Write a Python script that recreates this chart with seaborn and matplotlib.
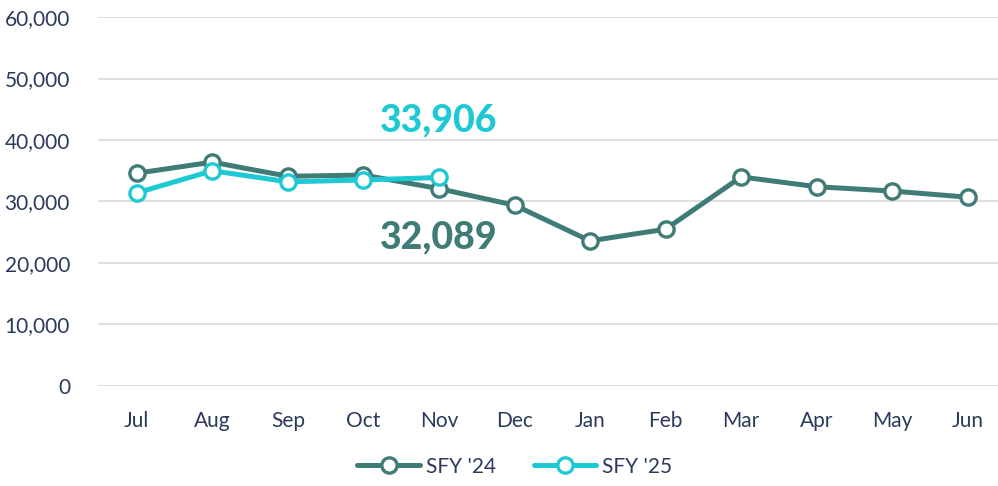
#Import needed packages
import numpy as np
import pandas as pd
import seaborn as sns
import matplotlib.pyplot as plt
from matplotlib.ticker import FuncFormatter

#Data
months = ['Jul', 'Aug', 'Sep', 'Oct', 'Nov', 'Dec', 'Jan', 'Feb', 'Mar', 'Apr', 'May', 'Jun']
sfy24 = [34600, 36400, 34100, 34300, 32089, 29400, 23600, 25500, 34000, 32400, 31700, 30700]
sfy25 = [31400, 35000, 33200, 33500, 33906]
series_names = ["SFY '24", "SFY '25"]

dark = '#3f7b77'
cyan = '#1fc9d4'
navy = '#2b3a5c'

#Long table for seaborn
df = pd.DataFrame({
    'Month': months * 2,
    'Value': sfy24 + sfy25 + [np.nan] * (len(months) - len(sfy25)),
    'Series': [series_names[0]] * len(months) + [series_names[1]] * len(months),
})
df['x'] = list(range(len(months))) * 2
df = df.dropna()

sns.set_style('white')
plt.rcParams['font.family'] = ['Lato', 'DejaVu Sans']

fig = plt.figure(figsize=(9.98, 4.86), dpi=100)
ax = fig.add_axes([0.098, 0.2058, 0.902, 0.7592])

sns.lineplot(data=df, x='x', y='Value', hue='Series', palette=[dark, cyan],
             marker='o', markersize=11, markerfacecolor='white', markeredgewidth=2.4,
             linewidth=3.6, ax=ax, legend=False, sort=True)
for line, c in zip(ax.get_lines(), [dark, cyan]):
    line.set_markeredgecolor(c)

ax.set_xlim(-0.516, 11.4)
ax.set_ylim(0, 60000)
ax.set_yticks(range(0, 60001, 10000))
ax.yaxis.set_major_formatter(FuncFormatter(lambda v, p: f'{int(v):,}'))
ax.set_xticks(range(len(months)))
ax.set_xticklabels(months)
ax.tick_params(axis='both', labelsize=15, labelcolor=navy, length=0)
ax.tick_params(axis='y', pad=20)
ax.tick_params(axis='x', pad=18)
ax.grid(axis='y', color='#d9d9d9', linewidth=1.2)
for s in ax.spines.values():
    s.set_visible(False)
ax.set_xlabel('')
ax.set_ylabel('')

#Labels for latest month
ax.text(4, sfy25[4] + 9350, f'{sfy25[4]:,}', color=cyan, fontsize=27, fontweight='black',
        ha='center', va='center')
ax.text(4, sfy24[4] - 7890, f'{sfy24[4]:,}', color=dark, fontsize=27, fontweight='black',
        ha='center', va='center')

#Legend at bottom
handles = [plt.Line2D([], [], color=c, linewidth=3.6, marker='o', markersize=11,
                      markerfacecolor='white', markeredgecolor=c, markeredgewidth=2.4)
           for c in [dark, cyan]]
leg = fig.legend(handles, series_names, loc='center', bbox_to_anchor=(0.516, 0.04), ncol=2,
                 frameon=False, fontsize=15, handlelength=3, columnspacing=1.8, handletextpad=0.3)
for t in leg.get_texts():
    t.set_color(navy)

plt.savefig('out.png', dpi=100)
